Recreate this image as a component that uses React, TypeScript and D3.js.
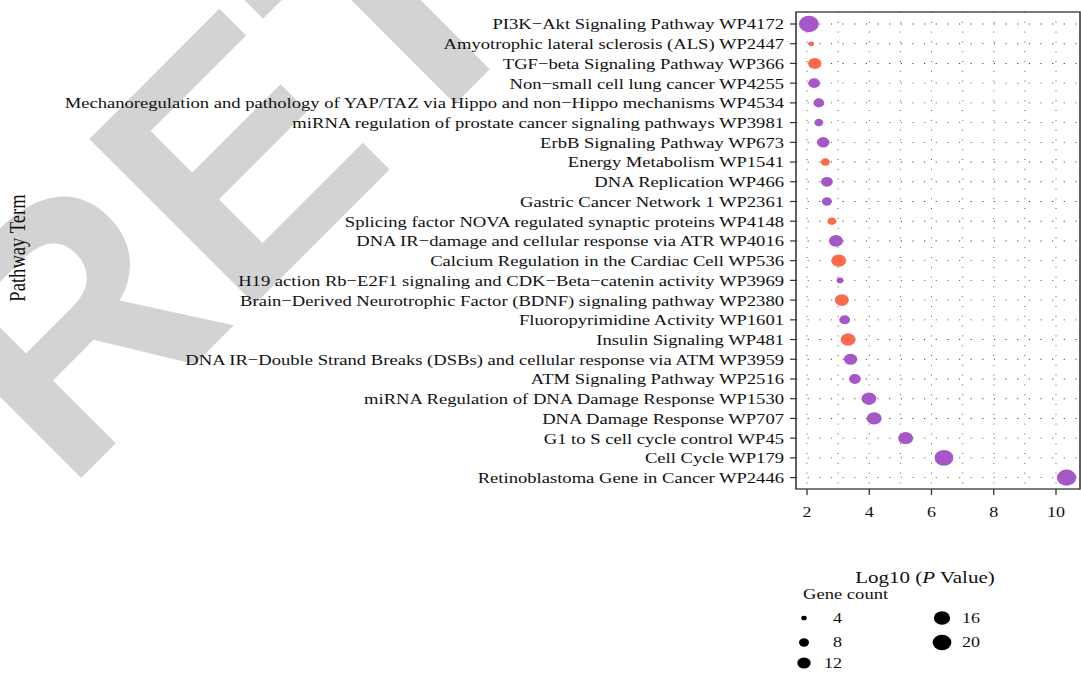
import * as d3 from 'd3'

const terms = [
  'PI3K−Akt Signaling Pathway WP4172',
  'Amyotrophic lateral sclerosis (ALS) WP2447',
  'TGF−beta Signaling Pathway WP366',
  'Non−small cell lung cancer WP4255',
  'Mechanoregulation and pathology of YAP/TAZ via Hippo and non−Hippo mechanisms WP4534',
  'miRNA regulation of prostate cancer signaling pathways WP3981',
  'ErbB Signaling Pathway WP673',
  'Energy Metabolism WP1541',
  'DNA Replication WP466',
  'Gastric Cancer Network 1 WP2361',
  'Splicing factor NOVA regulated synaptic proteins WP4148',
  'DNA IR−damage and cellular response via ATR WP4016',
  'Calcium Regulation in the Cardiac Cell WP536',
  'H19 action Rb−E2F1 signaling and CDK−Beta−catenin activity WP3969',
  'Brain−Derived Neurotrophic Factor (BDNF) signaling pathway WP2380',
  'Fluoropyrimidine Activity WP1601',
  'Insulin Signaling WP481',
  'DNA IR−Double Strand Breaks (DSBs) and cellular response via ATM WP3959',
  'ATM Signaling Pathway WP2516',
  'miRNA Regulation of DNA Damage Response WP1530',
  'DNA Damage Response WP707',
  'G1 to S cell cycle control WP45',
  'Cell Cycle WP179',
  'Retinoblastoma Gene in Cancer WP2446',
]

const logP = [
  2.06, 2.14, 2.25, 2.23, 2.38, 2.38, 2.52, 2.59, 2.64, 2.64, 2.8, 2.93,
  3.02, 3.06, 3.12, 3.21, 3.32, 3.4, 3.54, 3.99, 4.16, 5.17, 6.4, 10.34,
]

const geneCount = [
  22, 4, 12, 10, 9, 7, 11, 7, 10, 8, 7, 13,
  14, 5, 13, 9, 14, 12, 10, 14, 14, 14, 20, 21,
]

// 1 = purple, 2 = orange
const group = [
  1, 2, 2, 1, 1, 1, 1, 2, 1, 1, 2, 1,
  2, 1, 2, 1, 2, 1, 1, 1, 1, 1, 1, 1,
]

const xTicks = [2, 4, 6, 8, 10]
const legendCounts = [4, 8, 12, 16, 20]

const W = 1081
const H = 684
// the whole figure is stretched horizontally
const SX = 1.2
const ux = (v: number) => v / SX

const FONT = "'Liberation Serif', 'DejaVu Serif', serif"
const COLORS: Record<number, string> = { 1: '#A557C7', 2: '#FA6A4C' }
const AXIS = '#333333'

export default function App() {
  const left = ux(796)
  const right = ux(1080)
  const top = 12
  const bottom = 489

  const x = d3.scaleLinear().domain([2, 10]).range([ux(807), ux(1056)])
  const y = d3.scalePoint<string>().domain(terms).range([24, 477.6])
  const r = d3.scaleSqrt().domain([4, 20]).range([2.3, 7.8])
  const gridX = d3.range(2, 11)

  const rows = terms.map((t, i) => ({ term: t, p: logP[i], n: geneCount[i], g: group[i] }))

  const legendCol = [ux(804), ux(942)]
  const legendLabelX = [ux(842), ux(980)]
  const legendRowY = [618, 642.5, 663]

  return (
    <svg
      width={W}
      height={H}
      style={{ position: 'absolute', left: 0, top: 0, background: '#fff' }}
    >
      <rect width={W} height={H} fill="#fff" />
      {/* watermark */}
      <text
        transform="translate(65,494) rotate(-45)"
        fontFamily="'Liberation Sans', Arial, sans-serif"
        fontWeight="bold"
        fontSize={340}
        fill="#d3d3d3"
      >
        RETRACTED
      </text>

      <g transform={`scale(${SX},1)`} fontFamily={FONT}>
        {/* grid */}
        {gridX.map((v) => (
          <line
            key={`gx${v}`}
            x1={x(v)}
            x2={x(v)}
            y1={top}
            y2={bottom}
            stroke="#444"
            strokeWidth={0.8}
            strokeDasharray="1 8.8"
          />
        ))}
        {terms.map((t) => (
          <line
            key={`gy${t}`}
            x1={left}
            x2={right}
            y1={y(t)}
            y2={y(t)}
            stroke="#444"
            strokeWidth={0.9}
            strokeDasharray="1 8.7"
          />
        ))}

        {/* bubbles */}
        {rows.map((d) => (
          <circle
            key={d.term}
            cx={x(d.p)}
            cy={y(d.term)}
            r={r(d.n)}
            fill={COLORS[d.g]}
          />
        ))}

        {/* panel border */}
        <rect
          x={left}
          y={top}
          width={right - left}
          height={bottom - top}
          fill="none"
          stroke={AXIS}
          strokeWidth={1.3}
        />

        {/* y axis */}
        {terms.map((t) => (
          <g key={`yt${t}`}>
            <line x1={ux(790)} x2={left} y1={y(t)} y2={y(t)} stroke={AXIS} strokeWidth={1.2} />
            <text x={ux(784)} y={y(t)} dy="0.35em" textAnchor="end" fontSize={15.5} fill="#111">
              {t}
            </text>
          </g>
        ))}

        {/* x axis */}
        {xTicks.map((v) => (
          <g key={`xt${v}`}>
            <line x1={x(v)} x2={x(v)} y1={bottom} y2={bottom + 6} stroke={AXIS} strokeWidth={1.1} />
            <text x={x(v)} y={517} textAnchor="middle" fontSize={15} fill="#111">
              {v}
            </text>
          </g>
        ))}

        <text x={ux(925)} y={583} textAnchor="middle" fontSize={17.5} fill="#111">
          Log10 (<tspan fontStyle="italic">P</tspan> Value)
        </text>
        <text
          transform={`translate(${ux(25)},248) rotate(-90)`}
          textAnchor="middle"
          fontSize={18.6}
          fill="#111"
        >
          Pathway Term
        </text>

        {/* legend */}
        <text x={ux(803)} y={599} fontSize={15.5} fill="#111">
          Gene count
        </text>
        {legendCounts.map((c, i) => {
          const col = i < 3 ? 0 : 1
          const row = i < 3 ? i : i - 3
          const cy = legendRowY[row]
          return (
            <g key={`lg${c}`}>
              <circle cx={legendCol[col]} cy={cy} r={r(c)} fill="#000" />
              <text x={legendLabelX[col]} y={cy + 5} textAnchor="end" fontSize={15} fill="#111">
                {c}
              </text>
            </g>
          )
        })}
      </g>
    </svg>
  )
}
